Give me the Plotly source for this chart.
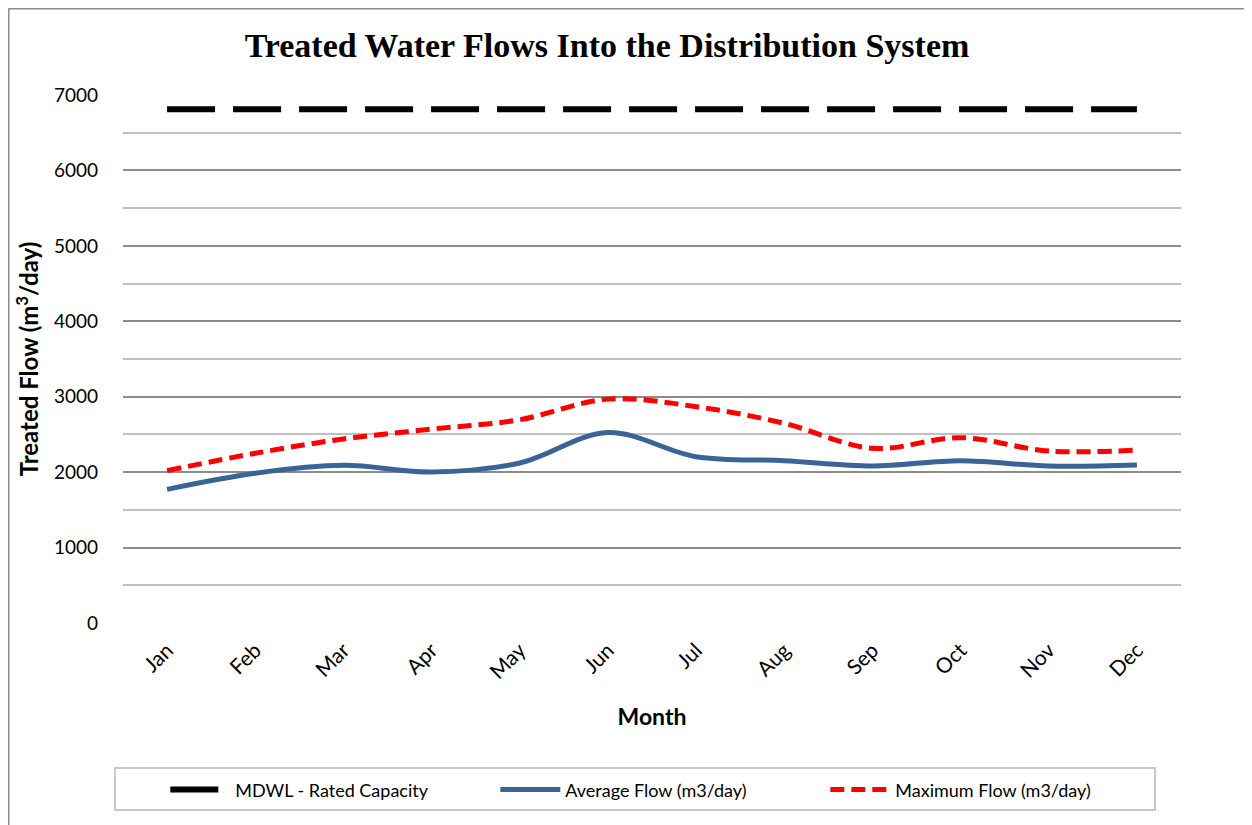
import plotly.graph_objects as go

months = ["Jan", "Feb", "Mar", "Apr", "May", "Jun", "Jul", "Aug", "Sep", "Oct", "Nov", "Dec"]
rated_capacity = [6810] * 12
average_flow = [1772, 1985, 2090, 2002, 2122, 2525, 2205, 2152, 2081, 2152, 2081, 2095]
maximum_flow = [2020, 2250, 2440, 2570, 2695, 2968, 2868, 2647, 2316, 2457, 2280, 2293]

FONT = "Lato"
W, H = 1244, 817          # page body adds an 8px margin
L, T, PW, PH = 115, 87, 1058, 528


def px(xf):
    return (xf - L) / PW


def py(yf):
    return (T + PH - yf) / PH


fig = go.Figure()
fig.add_trace(go.Scatter(
    x=months, y=rated_capacity, mode="lines", name="MDWL - Rated Capacity",
    line=dict(color="#000000", width=6, dash="48px,18px"),
))
fig.add_trace(go.Scatter(
    x=months, y=average_flow, mode="lines", name="Average Flow (m3/day)",
    line=dict(color="#3A6496", width=5, shape="spline", smoothing=1),
))
fig.add_trace(go.Scatter(
    x=months, y=maximum_flow, mode="lines", name="Maximum Flow (m3/day)",
    line=dict(color="#FF0000", width=5, shape="spline", smoothing=1, dash="14px,7px"),
))

fig.update_layout(
    width=W, height=H,
    margin=dict(l=L, r=W - L - PW, t=T, b=H - T - PH),
    paper_bgcolor="white", plot_bgcolor="white",
    font=dict(family=FONT, color="#000000", size=19),
    title=dict(
        text="<b>Treated Water Flows Into the Distribution System</b>",
        font=dict(family="Liberation Serif", size=34, color="#000000"),
        x=px(599), xanchor="center", xref="paper", y=1 - 37 / H, yanchor="middle",
    ),
    showlegend=True,
    legend=dict(
        orientation="h", x=0.04, xanchor="left", y=-0.316, yanchor="middle",
        font=dict(family=FONT, size=18, color="#000000"),
        bgcolor="rgba(0,0,0,0)", itemwidth=60,
        entrywidth=255, entrywidthmode="pixels",
        traceorder="normal",
    ),
    xaxis=dict(
        type="category", range=[-0.5, 11.5], tickangle=-45, showgrid=False, zeroline=False,
        showline=False, ticks="", tickfont=dict(family=FONT, size=21), ticklabelstandoff=10,
        title=dict(text="<b>Month</b>", font=dict(family=FONT, size=23), standoff=26),
    ),
    yaxis=dict(
        range=[0, 7000], dtick=1000, tick0=0, showgrid=True,
        gridcolor="#8C8C8C", gridwidth=2, zeroline=False, showline=False,
        ticks="", tickfont=dict(family=FONT, size=19), ticklabelstandoff=24,
        minor=dict(dtick=500, showgrid=True, gridcolor="#C0C0C0", gridwidth=2),
        title=dict(text="<b>Treated Flow (m<sup>3</sup>/day)</b>",
                   font=dict(family=FONT, size=24), standoff=8),
    ),
    shapes=[
        # outer chart border (left and top)
        dict(type="line", xref="paper", yref="paper",
             x0=px(0.5), x1=px(0.5), y0=py(H), y1=py(0.5),
             line=dict(color="#8C8C8C", width=2)),
        dict(type="line", xref="paper", yref="paper",
             x0=px(0.5), x1=px(W), y0=py(0.5), y1=py(0.5),
             line=dict(color="#8C8C8C", width=2)),
        # legend box
        dict(type="rect", xref="paper", yref="paper",
             x0=px(107), x1=px(1147), y0=py(802), y1=py(760),
             line=dict(color="#C8C8C8", width=2), fillcolor="rgba(0,0,0,0)"),
    ],
)

fig.write_html("out.html")
